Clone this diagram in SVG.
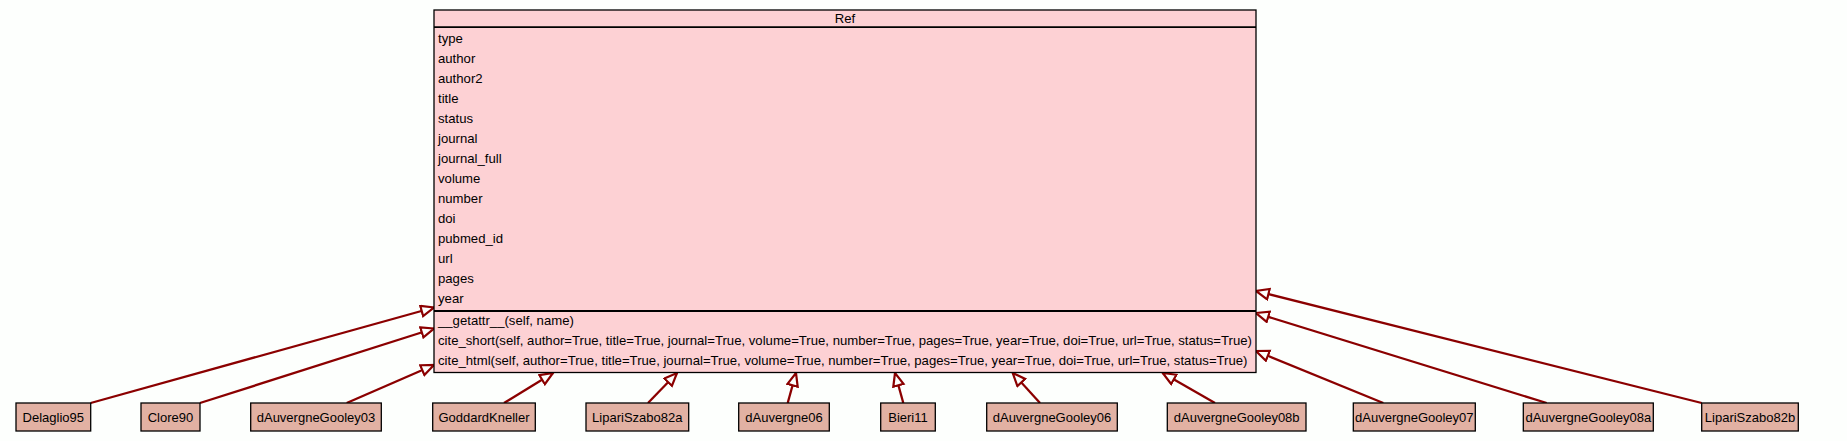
<svg xmlns="http://www.w3.org/2000/svg" width="1847" height="441" viewBox="0 0 1847 441">
<defs>
<style>
text{font-family:"Liberation Sans",Arial,sans-serif;font-size:13px;fill:#000}
.cls{fill:#fdd1d4;stroke:#000;stroke-width:1.3}
.members text{font-size:13.15px}
.sep{stroke:#000;stroke-width:1.8}
.node rect{fill:#e2b1a3;stroke:#000;stroke-width:1.3}
.node text{text-anchor:middle}
.edge{stroke:#8b0000;stroke-width:2.3;fill:none;marker-end:url(#tri)}
</style>
<marker id="tri" markerUnits="userSpaceOnUse" markerWidth="17" markerHeight="14" refX="14" refY="6.5" orient="auto" viewBox="0 0 17 14">
<path d="M1.2,1.2 L14,6.5 L1.2,11.8 Z" fill="#fdfffd" stroke="#8b0000" stroke-width="2.2"/>
</marker>
</defs>
<rect width="1847" height="441" fill="#fdfffd"/>
<g id="connectors">
<line class="edge" x1="90.7" y1="403" x2="434" y2="307.5"/>
<line class="edge" x1="200" y1="403" x2="434" y2="328.5"/>
<line class="edge" x1="346.7" y1="403" x2="434" y2="365"/>
<line class="edge" x1="504" y1="403" x2="553" y2="373"/>
<line class="edge" x1="648" y1="403" x2="677" y2="373"/>
<line class="edge" x1="787.7" y1="403" x2="796" y2="373"/>
<line class="edge" x1="903.3" y1="403" x2="895" y2="373"/>
<line class="edge" x1="1040" y1="403" x2="1012.7" y2="373"/>
<line class="edge" x1="1215" y1="403" x2="1162.7" y2="373"/>
<line class="edge" x1="1383.3" y1="403" x2="1256" y2="351"/>
<line class="edge" x1="1546.7" y1="403" x2="1256" y2="313"/>
<line class="edge" x1="1701.7" y1="403" x2="1256" y2="291"/>
</g>
<g id="Ref" class="members">
<rect class="cls" x="434" y="10" width="822" height="362.5"/>
<line class="sep" x1="434" y1="27.2" x2="1256" y2="27.2"/>
<line class="sep" x1="434" y1="311" x2="1256" y2="311"/>
<text x="845" y="23" text-anchor="middle">Ref</text>
<text x="438" y="43">type</text>
<text x="438" y="63">author</text>
<text x="438" y="83">author2</text>
<text x="438" y="103">title</text>
<text x="438" y="123">status</text>
<text x="438" y="143">journal</text>
<text x="438" y="163">journal_full</text>
<text x="438" y="183">volume</text>
<text x="438" y="203">number</text>
<text x="438" y="223">doi</text>
<text x="438" y="243">pubmed_id</text>
<text x="438" y="263">url</text>
<text x="438" y="283">pages</text>
<text x="438" y="303">year</text>
<text x="438" y="325">__getattr__(self, name)</text>
<text x="438" y="345">cite_short(self, author=True, title=True, journal=True, volume=True, number=True, pages=True, year=True, doi=True, url=True, status=True)</text>
<text x="438" y="365">cite_html(self, author=True, title=True, journal=True, volume=True, number=True, pages=True, year=True, doi=True, url=True, status=True)</text>
</g>
<g id="Delaglio95" class="node"><rect x="16" y="403" width="74.7" height="28"/><text x="53.3" y="421.5">Delaglio95</text></g>
<g id="Clore90" class="node"><rect x="141" y="403" width="59" height="28"/><text x="170.5" y="421.5">Clore90</text></g>
<g id="dAuvergneGooley03" class="node"><rect x="250.7" y="403" width="130.6" height="28"/><text x="316" y="421.5">dAuvergneGooley03</text></g>
<g id="GoddardKneller" class="node"><rect x="432.7" y="403" width="102.6" height="28"/><text x="484" y="421.5">GoddardKneller</text></g>
<g id="LipariSzabo82a" class="node"><rect x="586" y="403" width="102.7" height="28"/><text x="637.3" y="421.5">LipariSzabo82a</text></g>
<g id="dAuvergne06" class="node"><rect x="738.7" y="403" width="90.6" height="28"/><text x="784" y="421.5">dAuvergne06</text></g>
<g id="Bieri11" class="node"><rect x="880.7" y="403" width="54.6" height="28"/><text x="908" y="421.5">Bieri11</text></g>
<g id="dAuvergneGooley06" class="node"><rect x="986.7" y="403" width="130.6" height="28"/><text x="1052" y="421.5">dAuvergneGooley06</text></g>
<g id="dAuvergneGooley08b" class="node"><rect x="1167.3" y="403" width="138.7" height="28"/><text x="1236.7" y="421.5">dAuvergneGooley08b</text></g>
<g id="dAuvergneGooley07" class="node"><rect x="1353.3" y="403" width="122" height="28"/><text x="1414.3" y="421.5">dAuvergneGooley07</text></g>
<g id="dAuvergneGooley08a" class="node"><rect x="1523.3" y="403" width="130" height="28"/><text x="1588.3" y="421.5">dAuvergneGooley08a</text></g>
<g id="LipariSzabo82b" class="node"><rect x="1701.7" y="403" width="96.6" height="28"/><text x="1750" y="421.5">LipariSzabo82b</text></g>
</svg>
